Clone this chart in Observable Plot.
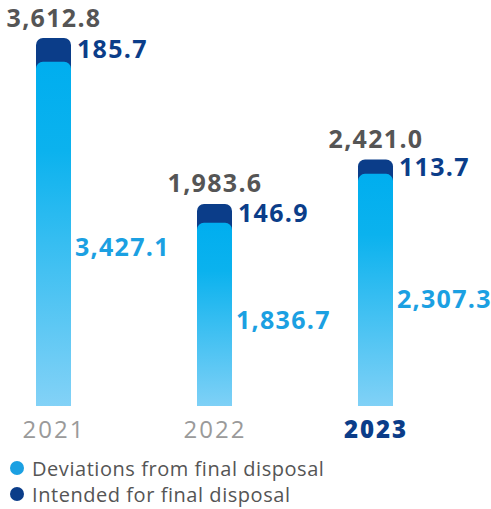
<!DOCTYPE html>
<html>
<head>
<meta charset="utf-8">
<script src="https://cdn.jsdelivr.net/npm/d3@7"></script>
<script src="https://cdn.jsdelivr.net/npm/@observablehq/plot@0.6"></script>
<style>
  html, body { margin: 0; padding: 0; background: #fff; }
  body { width: 491px; height: 509px; overflow: hidden; font-family: "Open Sans", sans-serif; }
  .legend { padding-left: 10px; }
  .legend .item { height: 26px; display: flex; align-items: center; font-size: 20px; letter-spacing: 0.55px; color: #555; }
  .legend .dot { width: 14px; height: 14px; border-radius: 50%; margin-right: 8px; flex: none; }
</style>
</head>
<body>
<div id="chart"></div>
<div class="legend" id="legend"></div>
<script>
const years = ["2021", "2022", "2023"];
const deviations = [3427.1, 1836.7, 2307.3];
const intended = [185.7, 146.9, 113.7];
const totals = [3612.8, 1983.6, 2421.0];
const seriesNames = ["Deviations from final disposal", "Intended for final disposal"];

const lightColor = "#1BA0E2";
const darkColor = "#0B3D89";

const fmt = d3.format(",.1f");
const data = years.map((y, i) => ({year: y, dev: deviations[i], int: intended[i], total: totals[i]}));
const maxY = d3.max(totals);
const below = -maxY * 0.03;

const chart = Plot.plot({
  width: 491,
  height: 455,
  marginTop: 38,
  marginBottom: 49,
  marginLeft: 0,
  marginRight: 0,
  style: {fontFamily: "'Open Sans', sans-serif", background: "white"},
  x: {domain: years, range: [35.5, 393.5], paddingInner: 0.783, paddingOuter: 0, axis: null},
  y: {domain: [0, maxY], axis: null},
  marks: [
    Plot.barY(data, {x: "year", y1: () => below, y2: "total", fill: darkColor, rx: 7, clip: true}),
    Plot.barY(data, {x: "year", y1: () => below, y2: d => d.dev - d.int * 0.25, fill: "url(#lightGrad)", rx: 7, clip: true}),
    Plot.text(data, {x: "year", y: "total", text: d => fmt(d.total), dy: -20, fill: "#555555", fontSize: 25, fontWeight: 700}),
    Plot.text(data, {x: "year", y: d => d.total - d.int / 2, text: d => fmt(d.int), textAnchor: "start", dx: 23, dy: 2, fill: darkColor, fontSize: 25, fontWeight: 700}),
    Plot.text(data, {x: "year", y: d => d.dev * 0.455, text: d => fmt(d.dev), textAnchor: "start", dx: 21, fill: lightColor, fontSize: 25, fontWeight: 700}),
    Plot.text(data.filter(d => d.year !== "2023"), {x: "year", y: () => 0, text: "year", dy: 24, fill: "#9a9a9a", fontSize: 24, fontWeight: 400}),
    Plot.text(data.filter(d => d.year === "2023"), {x: "year", y: () => 0, text: "year", dy: 24, fill: darkColor, fontSize: 24, fontWeight: 800})
  ]
});

const svg = d3.select(chart);
svg.selectAll("text").style("letter-spacing", "1.3px");
svg.selectAll("g[aria-label='text']").filter((d, i) => i >= 3).selectAll("text").style("letter-spacing", "2px");
const defs = svg.insert("defs", ":first-child");
const grad = defs.append("linearGradient").attr("id", "lightGrad").attr("x1", 0).attr("y1", 0).attr("x2", 0).attr("y2", 1);
grad.append("stop").attr("offset", "0%").attr("stop-color", "#00AEEF");
grad.append("stop").attr("offset", "25%").attr("stop-color", "#0BB2EE");
grad.append("stop").attr("offset", "100%").attr("stop-color", "#88D3F7");

document.getElementById("chart").appendChild(chart);

const legend = d3.select("#legend");
[lightColor, darkColor].forEach((c, i) => {
  const item = legend.append("div").attr("class", "item");
  item.append("span").attr("class", "dot").style("background", c);
  item.append("span").text(seriesNames[i]);
});
</script>
</body>
</html>
